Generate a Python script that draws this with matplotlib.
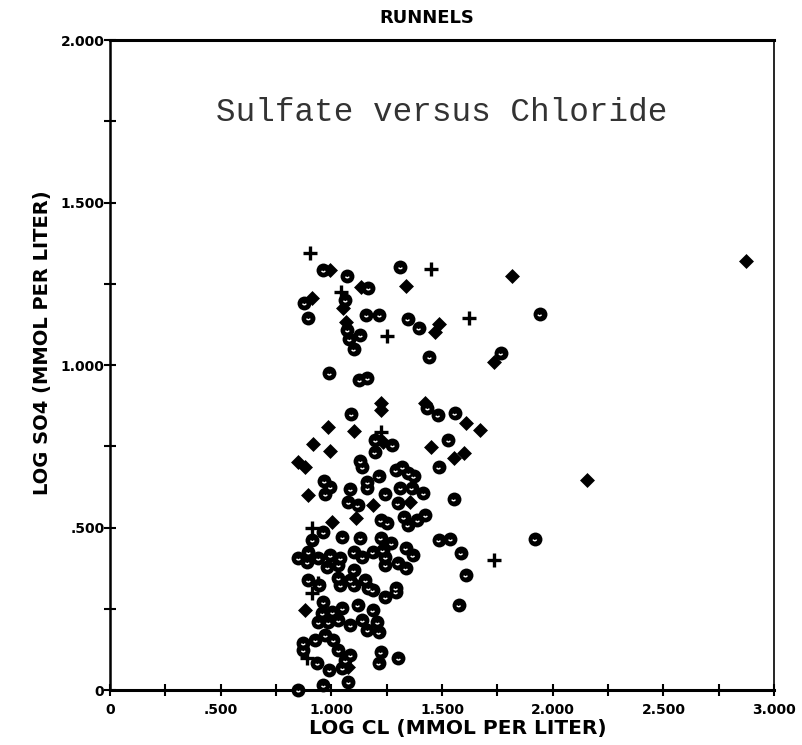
import numpy as np
import matplotlib.pyplot as plt
from matplotlib.path import Path

# circled-dot samples
circle_x = [0.964, 1.072, 1.312, 1.167, 1.063, 0.878, 0.896, 1.158, 1.217, 1.344,
            1.394, 1.131, 1.072, 1.081, 1.100, 1.443, 0.991, 1.127, 1.163, 1.765,
            1.941, 1.090, 1.434, 1.480, 1.557, 1.199, 1.276, 1.195, 1.529, 1.131,
            1.140, 1.484, 1.290, 1.321, 1.348, 1.371, 1.213, 1.163, 1.163, 0.968,
            0.995, 1.086, 0.973, 1.244, 1.312, 1.362, 1.416, 1.552, 1.077, 1.118,
            1.299, 1.222, 1.253, 1.326, 1.344, 1.389, 1.425, 0.964, 1.050, 1.131,
            1.222, 1.271, 1.484, 1.538, 0.914, 0.896, 1.584, 0.851, 0.891, 0.941,
            0.995, 1.041, 1.100, 1.140, 1.186, 1.231, 1.244, 1.335, 1.367, 0.982,
            1.032, 1.100, 1.244, 1.299, 1.335, 1.606, 0.896, 1.032, 1.086, 1.154,
            1.167, 1.290, 0.946, 1.041, 1.100, 1.186, 1.244, 1.290, 0.964, 0.959,
            1.005, 1.050, 1.118, 1.186, 1.208, 1.213, 0.941, 0.986, 1.032, 1.086,
            1.140, 1.163, 0.973, 1.009, 0.873, 0.928, 0.873, 1.032, 1.086, 1.063,
            1.222, 1.213, 1.303, 0.937, 0.991, 1.050, 0.964, 1.077, 0.851, 1.919,
            1.575]
circle_y = [1.292, 1.274, 1.302, 1.237, 1.200, 1.191, 1.145, 1.154, 1.154, 1.142,
            1.114, 1.092, 1.108, 1.080, 1.049, 1.025, 0.975, 0.954, 0.960, 1.037,
            1.157, 0.849, 0.868, 0.846, 0.852, 0.769, 0.754, 0.732, 0.769, 0.705,
            0.686, 0.686, 0.677, 0.686, 0.668, 0.658, 0.658, 0.640, 0.622, 0.643,
            0.625, 0.618, 0.603, 0.603, 0.622, 0.622, 0.606, 0.588, 0.578, 0.569,
            0.575, 0.523, 0.514, 0.532, 0.508, 0.523, 0.538, 0.486, 0.471, 0.468,
            0.468, 0.452, 0.462, 0.465, 0.462, 0.425, 0.422, 0.406, 0.394, 0.406,
            0.415, 0.406, 0.425, 0.409, 0.425, 0.431, 0.409, 0.437, 0.415, 0.378,
            0.385, 0.369, 0.385, 0.391, 0.375, 0.354, 0.338, 0.345, 0.338, 0.338,
            0.314, 0.314, 0.323, 0.323, 0.323, 0.308, 0.286, 0.302, 0.271, 0.237,
            0.240, 0.252, 0.262, 0.246, 0.209, 0.178, 0.209, 0.209, 0.215, 0.200,
            0.215, 0.185, 0.169, 0.154, 0.145, 0.154, 0.123, 0.123, 0.108, 0.092,
            0.117, 0.083, 0.098, 0.083, 0.062, 0.068, 0.015, 0.025, 0.000, 0.465,
            0.262]

# diamond samples
diamond_x = [0.995, 1.339, 1.136, 0.914, 1.054, 1.484, 1.466, 1.814, 2.873, 1.733,
             1.068, 1.222, 1.222, 1.425, 1.606, 1.670, 0.986, 1.104, 1.231, 0.919,
             0.995, 1.448, 1.552, 1.597, 0.851, 0.882, 0.896, 1.186, 1.357, 1.109,
             1.005, 0.882, 1.077, 2.154]
diamond_y = [1.292, 1.243, 1.240, 1.206, 1.175, 1.126, 1.102, 1.274, 1.320, 1.009,
             1.132, 0.883, 0.862, 0.883, 0.822, 0.800, 0.809, 0.797, 0.763, 0.757,
             0.735, 0.748, 0.714, 0.729, 0.702, 0.686, 0.600, 0.569, 0.578, 0.529,
             0.517, 0.246, 0.071, 0.646]

# plus samples
plus_x = [0.905, 1.452, 1.045, 1.620, 1.249, 1.226, 0.914, 1.733, 0.914, 0.891, 0.941]
plus_y = [1.345, 1.295, 1.225, 1.145, 1.089, 0.794, 0.498, 0.400, 0.298, 0.098, 0.329]

xticks = [0, 0.5, 1.0, 1.5, 2.0, 2.5, 3.0]
xtick_labels = ['0', '.500', '1.000', '1.500', '2.000', '2.500', '3.000']
yticks = [0, 0.5, 1.0, 1.5, 2.0]
ytick_labels = ['0', '.500', '1.000', '1.500', '2.000']

fig = plt.figure(figsize=(8.02, 7.45), dpi=100)
ax = fig.add_axes([0.1372, 0.0738, 0.828, 0.8725])

ax.scatter(circle_x, circle_y, s=100, c='black', marker='o', linewidths=0, clip_on=False, zorder=3)
smile = Path.arc(200, 340)
ax.scatter(circle_x, circle_y, s=7, marker=smile, facecolors='none', edgecolors='white',
           linewidths=1.0, clip_on=False, zorder=4)
ax.scatter(diamond_x, diamond_y, s=58, c='black', marker='D', linewidths=0, clip_on=False, zorder=3)
ax.scatter(plus_x, plus_y, s=110, c='black', marker='+', linewidths=2.4, clip_on=False, zorder=3)

ax.set_xlim(0, 3.0)
ax.set_ylim(0, 2.0)
ax.set_xticks(xticks)
ax.set_xticklabels(xtick_labels)
ax.set_yticks(yticks)
ax.set_yticklabels(ytick_labels)
ax.set_xticks(np.arange(0.25, 3.0, 0.5), minor=True)
ax.set_yticks(np.arange(0.25, 2.0, 0.5), minor=True)
ax.tick_params(which='both', direction='inout', length=8, width=1.5, color='black')
ax.tick_params(axis='x', which='major', labelsize=10, pad=5)
ax.tick_params(axis='y', which='major', labelsize=10, pad=0)
for lab in ax.get_xticklabels() + ax.get_yticklabels():
    lab.set_fontweight('bold')

for side in ['top', 'bottom']:
    ax.spines[side].set_linewidth(2.2)
ax.spines['left'].set_linewidth(1.8)
ax.spines['right'].set_linewidth(1.2)

ax.set_xlabel('LOG CL (MMOL PER LITER)', fontsize=14.5, fontweight='bold', va='center')
ax.xaxis.set_label_coords(0.523, -0.059)
ax.set_ylabel('LOG SO4 (MMOL PER LITER)', fontsize=14, fontweight='bold', va='center')
ax.yaxis.set_label_coords(-0.101, 0.535)
fig.text(427 / 802, 1 - 18 / 745, 'RUNNELS', ha='center', va='center',
         fontsize=13, fontweight='bold')
ax.text(0.5, 0.889, 'Sulfate versus Chloride', transform=ax.transAxes, ha='center', va='center',
        fontsize=23.5, family='Liberation Mono', color='#333333')

fig.savefig('out.png', dpi=100)
